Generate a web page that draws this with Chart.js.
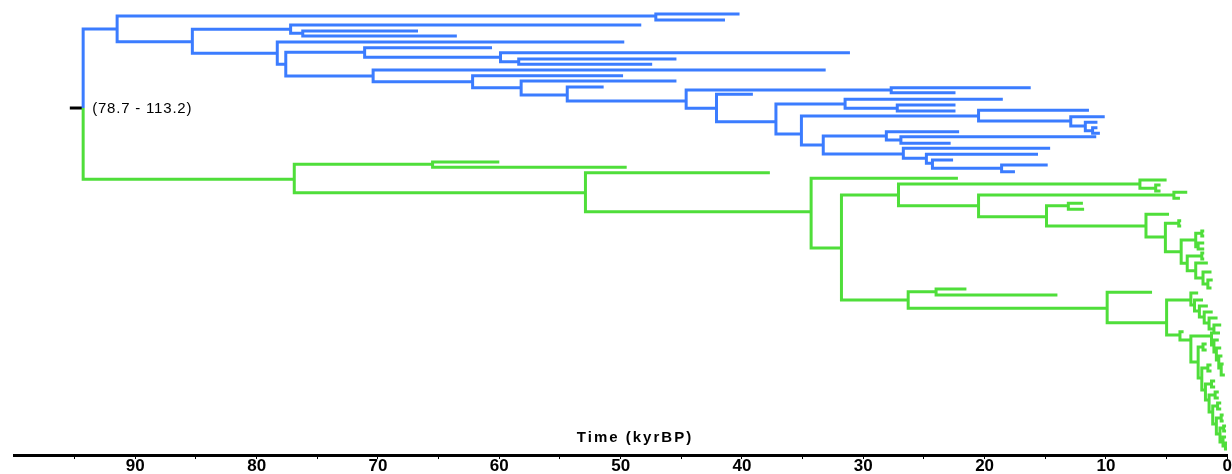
<!DOCTYPE html>
<html lang="en">
<head>
  <meta charset="UTF-8" />
  <title>Time tree</title>
  <script src="https://cdn.jsdelivr.net/npm/chart.js"></script>
  <style>
    html, body { margin: 0; padding: 0; background: #fff; }
    #wrap { width: 1232px; height: 474px; }
  </style>
</head>
<body>
<div id="wrap"><canvas id="tree"></canvas></div>
<script>
  // root of the tree (kyr BP) and its row
  const rootTime = 94.3;
  const rootRow = 108;
  const rootStubTime = 95.4;
  const rootLabel = '(78.7 - 113.2)';
  const axisTitle = 'Time (kyrBP)';
  const tickLabels = [90, 80, 70, 60, 50, 40, 30, 20, 10, 0];

  // [id, parent, time (kyr BP), row]
  const blueNodes = [
    ['b1','root',91.5,29], ['b2','b1',47.1,16], ['b3','b2',40.2,14], ['b4','b2',41.4,20],
    ['b5','b1',85.3,41.7], ['b6','b5',77.2,29.3], ['b7','b6',48.3,25], ['b8','b6',76.2,33.3],
    ['b9','b8',66.7,31], ['b10','b8',63.5,36], ['b11','b5',78.3,53.3], ['b12','b11',49.7,42],
    ['b13','b11',77.6,64.3], ['b14','b13',71.1,52.3], ['b15','b14',60.6,47.7], ['b16','b14',59.9,57.3],
    ['b17','b16',31.1,52.7], ['b18','b16',58.4,61.7], ['b19','b18',45.4,59], ['b20','b18',47.4,64.3],
    ['b21','b13',70.4,76], ['b22','b21',33.1,70], ['b23','b21',62.2,81.7], ['b24','b23',49.8,75.7],
    ['b25','b23',58.2,87.7], ['b26','b25',45.4,81], ['b27','b25',54.4,95], ['b28','b27',51.4,87],
    ['b29','b27',44.6,101], ['b30','b29',27.7,90], ['b31','b30',16.2,87.7], ['b32','b30',22.4,92.7],
    ['b33','b29',42.1,108.3], ['b34','b33',39.1,94.3], ['b35','b33',37.2,121.7], ['b36','b35',31.5,104],
    ['b37','b36',18.5,99.3], ['b38','b36',27.2,108.3], ['b39','b38',22.4,105], ['b40','b38',22.4,111],
    ['b41','b35',35.1,134], ['b42','b41',20.5,116], ['b43','b42',11.4,110.3], ['b44','b42',12.9,121],
    ['b45','b44',10.1,116.7], ['b46','b44',11.7,126], ['b47','b46',10.7,122.3], ['b48','b46',11.1,130.7],
    ['b49','b48',10.7,127.7], ['b50','b48',10.5,133.3], ['b51','b41',33.3,145], ['b52','b51',28.1,136],
    ['b53','b52',22.1,131.7], ['b54','b52',26.9,140], ['b55','b54',10.8,136.7], ['b56','b54',22.8,143.3],
    ['b57','b51',26.7,154], ['b58','b57',14.6,148.3], ['b59','b57',24.8,158.3], ['b60','b59',15.6,154.3],
    ['b61','b59',24.3,163.3], ['b62','b61',22.6,160], ['b63','b61',18.6,168.3], ['b64','b63',14.8,165],
    ['b65','b63',17.5,171.7]
  ];

  const greenNodes = [
    ['g1','root',76.9,179.3], ['g2','g1',65.5,164.3], ['g3','g2',60.0,162], ['g4','g2',49.5,167.3],
    ['g5','g1',52.9,192.7], ['g6','g5',37.7,172.7], ['g7','g5',34.3,211.7], ['g8','g7',22.2,178.3],
    ['g9','g7',31.8,248], ['g10','g9',27.1,195], ['g11','g10',7.2,184], ['g12','g11',5.0,180],
    ['g13','g11',5.9,188.3], ['g14','g13',5.5,185], ['g15','g13',5.5,191], ['g16','g10',20.5,205.7],
    ['g17','g16',4.4,195], ['g18','g17',3.3,192.3], ['g19','g17',3.9,198.3], ['g20','g16',14.9,216.7],
    ['g21','g20',13.1,205.7], ['g22','g21',11.9,203.3], ['g23','g21',11.8,209.3], ['g24','g20',6.7,226],
    ['g25','g24',4.8,214.3], ['g26','g24',5.1,237],
    ['g27','g26',4.0,223.3], ['g28','g27',3.8,220.7], ['g29','g27',3.8,226], ['g30','g26',3.8,251.7],
    ['g31','g30',2.6,240], ['g32','g31',2.1,233.3], ['g33','g32',1.9,231], ['g34','g32',1.9,236],
    ['g35','g31',2.4,246.7], ['g36','g35',1.9,243], ['g37','g35',1.9,249], ['g38','g30',3.3,263.3],
    ['g39','g38',2.1,256], ['g40','g39',1.9,253], ['g41','g39',1.9,259], ['g42','g38',2.6,270.7],
    ['g43','g42',1.6,263], ['g44','g42',2.0,278], ['g45','g44',1.3,272], ['g46','g44',1.6,284],
    ['g47','g46',1.2,280], ['g48','g46',1.3,288],
    ['g49','g9',26.3,300], ['g50','g49',24.0,291.7], ['g51','g50',21.5,289], ['g52','g50',14.0,295],
    ['g53','g49',9.9,308.3], ['g54','g53',6.2,292.3], ['g55','g53',5.0,322.7],
    ['g56','g55',3.0,300], ['g57','g56',2.4,293], ['g58','g56',2.7,305], ['g59','g58',2.0,300],
    ['g60','g58',2.3,311], ['g61','g60',1.6,306], ['g62','g60',1.9,317], ['g63','g62',1.2,312],
    ['g64','g62',1.5,323], ['g65','g64',0.8,318], ['g66','g64',1.1,329], ['g67','g66',0.5,325],
    ['g68','g66',0.6,333],
    ['g69','g55',3.9,335], ['g70','g69',3.6,331.7], ['g71','g69',3.0,340],
    // right-hand ladder
    ['g72','g71',1.3,336], ['g73','g72',0.9,333], ['g74','g72',1.1,345], ['g75','g74',0.7,340],
    ['g76','g74',0.9,352], ['g77','g76',0.5,348], ['g78','g76',0.7,360], ['g79','g78',0.4,356],
    ['g80','g78',0.5,368], ['g81','g80',0.3,364], ['g82','g80',0.2,375],
    // left-hand ladder running down to the axis
    ['g83','g71',2.4,362], ['g84','g83',2.0,347], ['g85','g84',1.7,344], ['g86','g84',1.7,350],
    ['g87','g83',2.1,378], ['g88','g87',1.6,368], ['g89','g88',1.3,365], ['g90','g88',1.3,371],
    ['g91','g87',1.8,390], ['g92','g91',1.3,384], ['g93','g92',1.0,381], ['g94','g92',1.0,387],
    ['g95','g91',1.5,400], ['g96','g95',1.0,395], ['g97','g96',0.7,392], ['g98','g96',0.7,398],
    ['g99','g95',1.2,412], ['g100','g99',0.8,406], ['g101','g100',0.5,403], ['g102','g100',0.5,409],
    ['g103','g99',0.9,424], ['g104','g103',0.5,418], ['g105','g104',0.3,415], ['g106','g104',0.3,421],
    ['g107','g103',0.6,434], ['g108','g107',0.3,428], ['g109','g108',0.1,426], ['g110','g108',0.1,431],
    ['g111','g107',0.35,442], ['g112','g111',0.1,437], ['g113','g111',0.15,446],
    ['g114','g113',0.02,443], ['g115','g113',0.02,449]
  ];

  // elbow path for every branch: parent time/row -> parent time/own row -> own time/own row
  function branchPoints(nodes) {
    const pos = { root: [rootTime, rootRow] };
    nodes.forEach(n => { pos[n[0]] = [n[2], n[3]]; });
    const pts = [];
    nodes.forEach(n => {
      const p = pos[n[1]];
      pts.push({ x: p[0], y: p[1] }, { x: p[0], y: n[3] }, { x: n[2], y: n[3] }, { x: n[2], y: null });
    });
    return pts;
  }

  const treeText = {
    id: 'treeText',
    afterDraw(chart) {
      const { ctx, scales: { x, y } } = chart;
      ctx.save();
      ctx.fillStyle = '#000';
      ctx.textBaseline = 'middle';
      ctx.font = '15px "Liberation Sans", Arial, sans-serif';
      ctx.letterSpacing = '0.8px';
      ctx.fillText(rootLabel, x.getPixelForValue(rootTime) + 9, y.getPixelForValue(rootRow) + 1);
      ctx.font = 'bold 15px "Liberation Sans", Arial, sans-serif';
      ctx.letterSpacing = '2px';
      ctx.textAlign = 'center';
      ctx.fillText(axisTitle, 635, y.bottom - 17);
      ctx.restore();
    }
  };

  const line = (data, color) => ({
    data, borderColor: color, borderWidth: 3, pointRadius: 0, pointHoverRadius: 0,
    spanGaps: false, tension: 0, borderJoinStyle: 'miter', borderCapStyle: 'butt', clip: false
  });

  new Chart(document.getElementById('tree'), {
    type: 'line',
    data: {
      datasets: [
        line(branchPoints(blueNodes), '#3b7cff'),
        line(branchPoints(greenNodes), '#4fde3a'),
        line([{ x: rootStubTime, y: rootRow }, { x: rootTime, y: rootRow }], '#000')
      ]
    },
    options: {
      responsive: true,
      maintainAspectRatio: false,
      animation: false,
      events: [],
      layout: { padding: { left: 14, right: 3, top: 0, bottom: 0 } },
      plugins: { legend: { display: false }, tooltip: { enabled: false } },
      scales: {
        x: {
          type: 'linear', min: 0, max: 100, reverse: true,
          border: { display: true, color: '#000', width: 3 },
          grid: {
            drawOnChartArea: false, drawTicks: true, tickLength: 4, lineWidth: 1,
            color: c => (c.tick && c.tick.value === 100) ? 'rgba(0,0,0,0)' : '#000'
          },
          afterBuildTicks: axis => {
            const vals = [];
            tickLabels.forEach(v => { vals.push(v); if (v + 5 < 100) vals.push(v + 5); });
            axis.ticks = vals.sort((a, b) => b - a).map(v => ({ value: v }));
          },
          ticks: {
            autoSkip: false, maxRotation: 0, padding: 0, color: '#000',
            font: { family: '"Liberation Sans", Arial, sans-serif', size: 17, weight: 'bold', lineHeight: 0.88 },
            callback: v => tickLabels.includes(v) ? String(v) : ''
          }
        },
        y: { type: 'linear', min: 0, max: 455, reverse: true, display: false }
      }
    },
    plugins: [treeText]
  });
</script>
</body>
</html>
